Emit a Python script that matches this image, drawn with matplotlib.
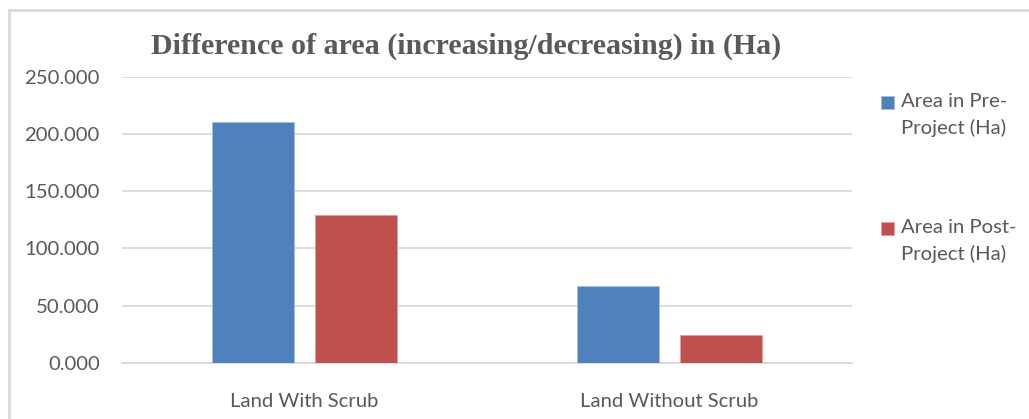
import numpy as np
import matplotlib
matplotlib.use("Agg")
from matplotlib import pyplot as plt
from matplotlib.lines import Line2D

# data
categories = ["Land With Scrub", "Land Without Scrub"]
pre_project = [210.5, 67.0]
post_project = [128.8, 24.0]
series_labels = ["Area in Pre-\nProject (Ha)", "Area in Post-\nProject (Ha)"]
yticks = [0, 50, 100, 150, 200, 250]

BLUE = "#4F81BD"
RED = "#C0504D"
GRID = "#D9D9D9"
TEXT = "#595959"
FS = 14.6

fig = plt.figure(figsize=(10.29, 4.19), dpi=100)
ax = fig.add_axes([122 / 1029, 1 - 362.7 / 419, 730 / 1029, (362.7 - 76.7) / 419])

x = np.arange(len(categories))
w = 0.224
off = 0.142
b1 = ax.bar(x - off, pre_project, w, color=BLUE, edgecolor="#A7C0DE", linewidth=0.6, zorder=3)
b2 = ax.bar(x + off, post_project, w, color=RED, edgecolor="#E0A09E", linewidth=0.6, zorder=3)

ax.set_xlim(-0.5, 1.5)
ax.set_ylim(0, 250)
ax.set_yticks(yticks)
ax.set_yticklabels(["%.3f" % v for v in yticks])
ax.set_xticks(x)
ax.set_xticklabels(categories)
ax.grid(axis="y", color=GRID, linewidth=1.3, zorder=0)
for s in ["left", "right", "top"]:
    ax.spines[s].set_visible(False)
ax.spines["bottom"].set_color(GRID)
ax.spines["bottom"].set_linewidth(1.3)
ax.tick_params(axis="both", length=0, labelcolor=TEXT, labelsize=FS)
ax.tick_params(axis="y", pad=16)
ax.tick_params(axis="x", pad=22)
for lbl in ax.get_xticklabels() + ax.get_yticklabels():
    lbl.set_family("Lato")

fig.text(466 / 1029, 1 - 46 / 419, "Difference of area (increasing/decreasing) in (Ha)",
         ha="center", va="center", fontsize=21.6, fontweight="bold",
         family="Liberation Serif", color=TEXT)

# legend, one box per entry so the square sits next to the first line
for bars, lab, yc in [(b1, series_labels[0], 115), (b2, series_labels[1], 241)]:
    leg = fig.legend([bars], [lab], loc="center left",
                     bbox_to_anchor=(881 / 1029, 1 - yc / 419), frameon=False,
                     prop={"family": "Lato", "size": FS}, labelcolor=TEXT,
                     handlelength=0.64, handleheight=0.64, handletextpad=0.35,
                     borderpad=0, borderaxespad=0)
    for t in leg.get_texts():
        t.set_linespacing(1.55)
    for p in leg.get_patches():
        p.set_y(p.get_y() + 9)

# outer chart border
fig.add_artist(Line2D([9 / 1029, 9 / 1029], [0, 1 - 10.5 / 419], color=GRID,
                      linewidth=2, transform=fig.transFigure))
fig.add_artist(Line2D([9 / 1029, 1], [1 - 10.5 / 419, 1 - 10.5 / 419], color=GRID,
                      linewidth=2, transform=fig.transFigure))

fig.savefig("out.png", dpi=100)
